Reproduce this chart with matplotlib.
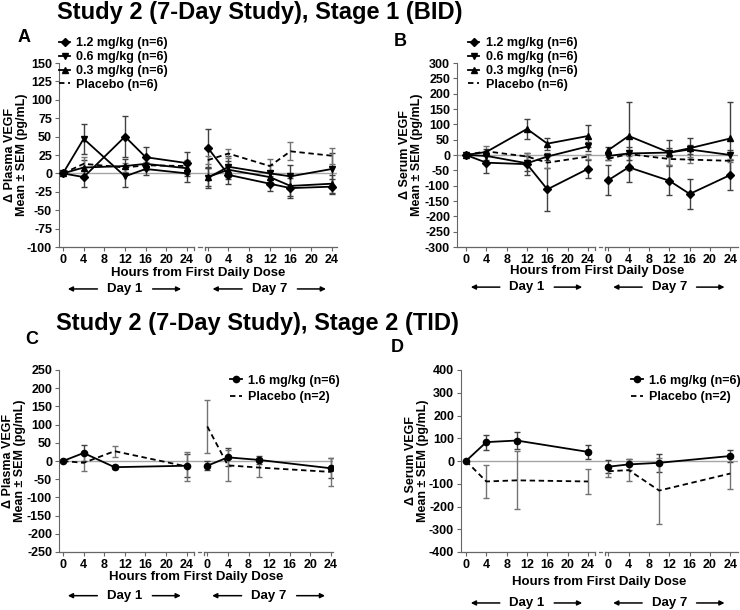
import matplotlib
matplotlib.use("Agg")
import matplotlib.pyplot as plt
import numpy as np

plt.rcParams['font.family'] = ['Liberation Sans', 'DejaVu Sans']
plt.rcParams['font.weight'] = 'bold'
plt.rcParams['axes.labelweight'] = 'bold'
plt.rcParams['axes.unicode_minus'] = False

DAY7 = 28  # x position of day 7 hour 0 on the broken axis

# ---- Stage 1 (BID): sampling hours
hours_bid = [0, 4, 12, 16, 24]

# panel A, plasma VEGF change (pg/mL)
a_12_d1 = [0, -5, 50, 22, 14]
a_12_d1_err = [0, 14, 28, 14, 15]
a_12_d7 = [35, -2, -14, -20, -18]
a_12_d7_err = [26, 12, 10, 14, 10]
a_06_d1 = [0, 47, -4, 6, 0]
a_06_d1_err = [0, 20, 15, 8, 12]
a_06_d7 = [-6, 9, 0, -4, 6]
a_06_d7_err = [14, 14, 12, 15, 22]
a_03_d1 = [0, 8, 10, 13, 7]
a_03_d1_err = [0, 10, 10, 8, 10]
a_03_d7 = [-5, 5, -5, -17, -14]
a_03_d7_err = [12, 12, 8, 14, 12]
a_pl_d1 = [0, 13, 8, 11, 10]
a_pl_d1_err = [0, 9, 6, 5, 8]
a_pl_d7 = [18, 27, 10, 30, 24]
a_pl_d7_err = [5, 6, 10, 12, 11]

# panel B, serum VEGF change (pg/mL)
b_12_d1 = [0, -25, -30, -112, -45]
b_12_d1_err = [0, 33, 35, 70, 30]
b_12_d7 = [-82, -40, -84, -127, -65]
b_12_d7_err = [48, 48, 48, 48, 48]
b_06_d1 = [0, -3, -27, -5, 28]
b_06_d1_err = [0, 12, 25, 12, 15]
b_06_d7 = [-3, 5, 8, 18, 0]
b_06_d7_err = [12, 20, 15, 15, 15]
b_03_d1 = [0, 10, 85, 37, 62]
b_03_d1_err = [0, 10, 32, 20, 36]
b_03_d7 = [16, 62, 8, 22, 54]
b_03_d7_err = [10, 110, 40, 35, 120]
b_pl_d1 = [0, 12, -5, -25, -5]
b_pl_d1_err = [0, 16, 10, 18, 8]
b_pl_d7 = [-12, 3, -13, -15, -19]
b_pl_d7_err = [5, 5, 20, 10, 5]

# ---- Stage 2 (TID)
hours_tid = [0, 4, 10, 24]

# panel C, plasma
c_16_d1 = [0, 22, -17, -13]
c_16_d1_err = [0, 22, 6, 32]
c_16_d7 = [-13, 10, 3, -20]
c_16_d7_err = [12, 25, 12, 28]
c_pl_d1 = [0, -5, 27, -15]
c_pl_d1_err = [0, 23, 15, 40]
c_pl_d7 = [95, -12, -18, -30]
c_pl_d7_err = [73, 43, 27, 38]

# panel D, serum
d_16_d1 = [0, 83, 90, 40]
d_16_d1_err = [0, 33, 37, 30]
d_16_d7 = [-25, -15, -8, 22]
d_16_d7_err = [28, 25, 40, 25]
d_pl_d1 = [0, -90, -85, -90]
d_pl_d1_err = [0, 72, 128, 55]
d_pl_d7 = [-45, -40, -130, -55]
d_pl_d7_err = [25, 50, 145, 70]

tick_hours = [0, 4, 8, 12, 16, 20, 24]


def add_series(ax, hours, d1, e1, d7, e7, label, marker, dashed=False):
    ls = (0, (3, 2)) if dashed else '-'
    ecol = '0.45' if dashed else '0.25'
    h7 = [h + DAY7 for h in hours]
    line = None
    for xs, ys, es in [(hours, d1, e1), (h7, d7, e7)]:
        ax.errorbar(xs, ys, yerr=es, fmt='none', ecolor=ecol, elinewidth=1,
                    capsize=2.5, capthick=1, zorder=2)
        line, = ax.plot(xs, ys, color='black', lw=1.3, ls=ls, marker=marker,
                        ms=4.5, label=label, zorder=3)
    return line


def setup_axes(ax, xlim, ylim, ystep, ylabel, xlab_y, ylab_x, day_y):
    ax.set_xlim(*xlim)
    ax.set_ylim(*ylim)
    ax.axhline(0, color='0.65', lw=1, zorder=1)
    ax.spines['top'].set_visible(False)
    ax.spines['right'].set_visible(False)
    ax.spines['bottom'].set_visible(False)
    ax.spines['left'].set_color('0.4')
    ax.set_yticks(np.arange(ylim[0], ylim[1] + 1, ystep))
    ticks = tick_hours + [h + DAY7 for h in tick_hours]
    ax.set_xticks(ticks)
    ax.set_xticklabels([str(h) for h in tick_hours] * 2)
    ax.tick_params(labelsize=9, length=3, width=0.8, color='0.4', pad=2)
    ax.set_ylabel(ylabel, fontsize=9, linespacing=1.0)
    ax.yaxis.set_label_coords(ylab_x, 0.5)
    ax.set_xlabel('Hours from First Daily Dose', fontsize=9.5, va='center')
    ax.xaxis.set_label_coords(0.5, xlab_y)

    # broken bottom axis
    tr = ax.get_xaxis_transform()
    kw = dict(color='0.4', lw=0.9, transform=tr, clip_on=False)
    ax.plot([xlim[0], 25.4], [0, 0], **kw)
    ax.plot([25.4, 25.4], [0, -0.015], **kw)
    ax.plot([26.2, 26.8], [0, 0], **kw)
    ax.plot([27.4, xlim[1]], [0, 0], **kw)
    ax.plot([27.4, 27.4], [0, -0.015], **kw)

    # day arrows
    akw = dict(arrowstyle='-|>', color='black', lw=1.1, mutation_scale=7)
    for x0, label in [(0, 'Day 1'), (DAY7, 'Day 7')]:
        ax.text(x0 + 12, day_y, label, transform=tr, ha='center', va='center',
                fontsize=9.5)
        ax.annotate('', xy=(x0 + 0.4, day_y), xytext=(x0 + 7.2, day_y),
                    xycoords=tr, textcoords=tr, arrowprops=akw)
        ax.annotate('', xy=(x0 + 23.4, day_y), xytext=(x0 + 16.8, day_y),
                    xycoords=tr, textcoords=tr, arrowprops=akw)


fig = plt.figure(figsize=(7.4, 6.1), dpi=100)
W, H = 740.0, 610.0


def add_ax(left, top, right, bottom):
    return fig.add_axes([left / W, 1 - bottom / H, (right - left) / W, (bottom - top) / H])


axA = add_ax(59, 63, 337, 247)
axB = add_ax(457, 63, 738, 247)
axC = add_ax(59, 370, 333, 552)
axD = add_ax(461, 370, 738, 552)

plasma = '\u0394 Plasma VEGF\nMean \u00b1 SEM (pg/mL)'
serum = '\u0394 Serum VEGF\nMean \u00b1 SEM (pg/mL)'

# panel A
h = [add_series(axA, hours_bid, a_12_d1, a_12_d1_err, a_12_d7, a_12_d7_err, '1.2 mg/kg (n=6)', 'D'),
     add_series(axA, hours_bid, a_06_d1, a_06_d1_err, a_06_d7, a_06_d7_err, '0.6 mg/kg (n=6)', 'v'),
     add_series(axA, hours_bid, a_03_d1, a_03_d1_err, a_03_d7, a_03_d7_err, '0.3 mg/kg (n=6)', '^'),
     add_series(axA, hours_bid, a_pl_d1, a_pl_d1_err, a_pl_d7, a_pl_d7_err, 'Placebo (n=6)', None, True)]
setup_axes(axA, (-0.77, 53), (-100, 150), 25, plasma, -0.14, -0.11, -0.228)
axA.legend(handles=h, loc='upper left', bbox_to_anchor=(0.0, 1.14), frameon=False,
           fontsize=9, handlelength=0.9, handletextpad=0.5, labelspacing=0.15,
           borderaxespad=0, borderpad=0)

# panel B
h = [add_series(axB, hours_bid, b_12_d1, b_12_d1_err, b_12_d7, b_12_d7_err, '1.2 mg/kg (n=6)', 'D'),
     add_series(axB, hours_bid, b_06_d1, b_06_d1_err, b_06_d7, b_06_d7_err, '0.6 mg/kg (n=6)', 'v'),
     add_series(axB, hours_bid, b_03_d1, b_03_d1_err, b_03_d7, b_03_d7_err, '0.3 mg/kg (n=6)', '^'),
     add_series(axB, hours_bid, b_pl_d1, b_pl_d1_err, b_pl_d7, b_pl_d7_err, 'Placebo (n=6)', None, True)]
setup_axes(axB, (-1.77, 53.5), (-300, 300), 50, serum, -0.13, -0.122, -0.218)
axB.legend(handles=h, loc='upper left', bbox_to_anchor=(0.04, 1.14), frameon=False,
           fontsize=9, handlelength=0.9, handletextpad=0.5, labelspacing=0.15,
           borderaxespad=0, borderpad=0)

# panel C
h = [add_series(axC, hours_tid, c_16_d1, c_16_d1_err, c_16_d7, c_16_d7_err, '1.6 mg/kg (n=6)', 'o'),
     add_series(axC, hours_tid, c_pl_d1, c_pl_d1_err, c_pl_d7, c_pl_d7_err, 'Placebo (n=2)', None, True)]
setup_axes(axC, (-0.78, 52.4), (-250, 250), 50, plasma, -0.14, -0.122, -0.24)
axC.legend(handles=h, loc='upper left', bbox_to_anchor=(0.625, 0.975), frameon=False,
           fontsize=9, handlelength=0.9, handletextpad=0.5, labelspacing=0.35,
           borderaxespad=0, borderpad=0)

# panel D
h = [add_series(axD, hours_tid, d_16_d1, d_16_d1_err, d_16_d7, d_16_d7_err, '1.6 mg/kg (n=6)', 'o'),
     add_series(axD, hours_tid, d_pl_d1, d_pl_d1_err, d_pl_d7, d_pl_d7_err, 'Placebo (n=2)', None, True)]
setup_axes(axD, (-0.98, 53.5), (-400, 400), 100, serum, -0.165, -0.115, -0.28)
axD.legend(handles=h, loc='upper left', bbox_to_anchor=(0.615, 0.975), frameon=False,
           fontsize=9, handlelength=0.9, handletextpad=0.5, labelspacing=0.35,
           borderaxespad=0, borderpad=0)

# titles and panel letters
fig.text(260 / W, 1 - 13 / H, 'Study 2 (7-Day Study), Stage 1 (BID)', ha='center', va='center', fontsize=17)
fig.text(257 / W, 1 - 324 / H, 'Study 2 (7-Day Study), Stage 2 (TID)', ha='center', va='center', fontsize=17)
for x, y, s in [(24, 37, 'A'), (400, 42, 'B'), (32, 339, 'C'), (397, 348, 'D')]:
    fig.text(x / W, 1 - y / H, s, ha='center', va='center', fontsize=13)

fig.savefig('out.png', dpi=100)
